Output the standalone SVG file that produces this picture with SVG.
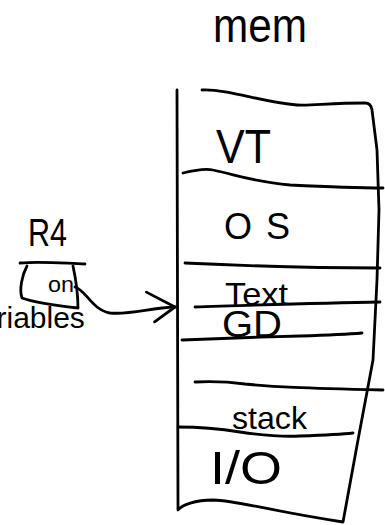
<svg xmlns="http://www.w3.org/2000/svg" width="385" height="525" viewBox="0 0 385 525">
<style>
  .ink{fill:none;stroke:#000;stroke-width:2.8;stroke-linecap:round;stroke-linejoin:round}
  .hand{font-family:"Liberation Sans","DejaVu Sans",sans-serif;fill:#000}
  .print{font-family:"Liberation Sans",Arial,sans-serif;fill:#000}
</style>
<defs>
  <marker id="open" markerUnits="userSpaceOnUse" markerWidth="40" markerHeight="40" refX="0" refY="0" viewBox="-32 -20 36 40" orient="auto" overflow="visible">
    <path d="M-28,-16 L0,0 L-21,14" fill="none" stroke="#000" stroke-width="2.8" stroke-linecap="round" stroke-linejoin="round"/>
  </marker>
</defs>
<rect width="385" height="525" fill="#fff"/>

<g id="mem-label">
  <text class="hand" x="213" y="42" font-size="48" textLength="94" lengthAdjust="spacingAndGlyphs">mem</text>
</g>

<g id="memory">
  <path class="ink" d="M177,90 L178,510 C182,505 195,500 213,500 C240,501 265,510 343,522 L358,440 L373,360 L377,280 L379,210 L377,150 L372,110 Q371,103 365,103 C330,103 310,106 297,105 C260,102 230,89 202,90"/>
  <g id="seg-vt">
    <text class="hand" x="216" y="163" font-size="48" textLength="55" lengthAdjust="spacingAndGlyphs">VT</text>
    <path class="ink" d="M183,173 C195,170 205,168 213,170 C240,176 255,182 290,185 C330,187 360,188 383,188"/>
  </g>
  <g id="seg-os">
    <text class="hand" x="224" y="239" font-size="36">O<tspan dx="14">S</tspan></text>
    <path class="ink" d="M185,263 C250,266 320,268 380,268"/>
  </g>
  <g id="seg-text">
    <text class="hand" x="225" y="305" font-size="32" textLength="63" lengthAdjust="spacingAndGlyphs">Text</text>
    <path class="ink" d="M195,307 C260,305 320,303 380,302"/>
  </g>
  <g id="seg-gd">
    <text class="hand" x="222" y="337" font-size="36" textLength="60" lengthAdjust="spacingAndGlyphs">GD</text>
    <path class="ink" d="M182,340 C230,338 260,337 300,336 C330,335 350,334 362,333"/>
  </g>
  <g id="seg-stack">
    <path class="ink" d="M195,382 C215,381 230,382 245,384 C275,387 300,388 383,390"/>
    <text class="hand" x="232" y="429" font-size="32" textLength="75" lengthAdjust="spacingAndGlyphs">stack</text>
    <path class="ink" d="M178,427 C200,427 215,428 240,432 C260,435 280,437 300,436 C330,435 345,434 353,433"/>
  </g>
  <g id="seg-io">
    <text class="hand" x="210" y="484" font-size="46" textLength="72" lengthAdjust="spacingAndGlyphs">I/O</text>
  </g>
</g>

<g id="reg-r4">
  <text class="hand" x="28" y="246" font-size="38" textLength="39" lengthAdjust="spacingAndGlyphs">R4</text>
  <path class="ink" d="M20,263 C40,261 60,263 85,264"/>
  <path class="ink" d="M27,266 C22,275 19,290 22,298 C35,303 60,306 78,308 C78,295 76,280 73,266"/>
  <text class="hand" x="48" y="292" font-size="22" textLength="26" lengthAdjust="spacingAndGlyphs">on</text>
</g>

<g id="variables-label">
  <text class="print" x="-3.5" y="328" font-size="30">riables</text>
</g>

<g id="connectors">
  <path class="ink" d="M75,287 C86,290 92,310 110,313 C130,315 150,308 175,307" marker-end="url(#open)"/>
</g>
</svg>
